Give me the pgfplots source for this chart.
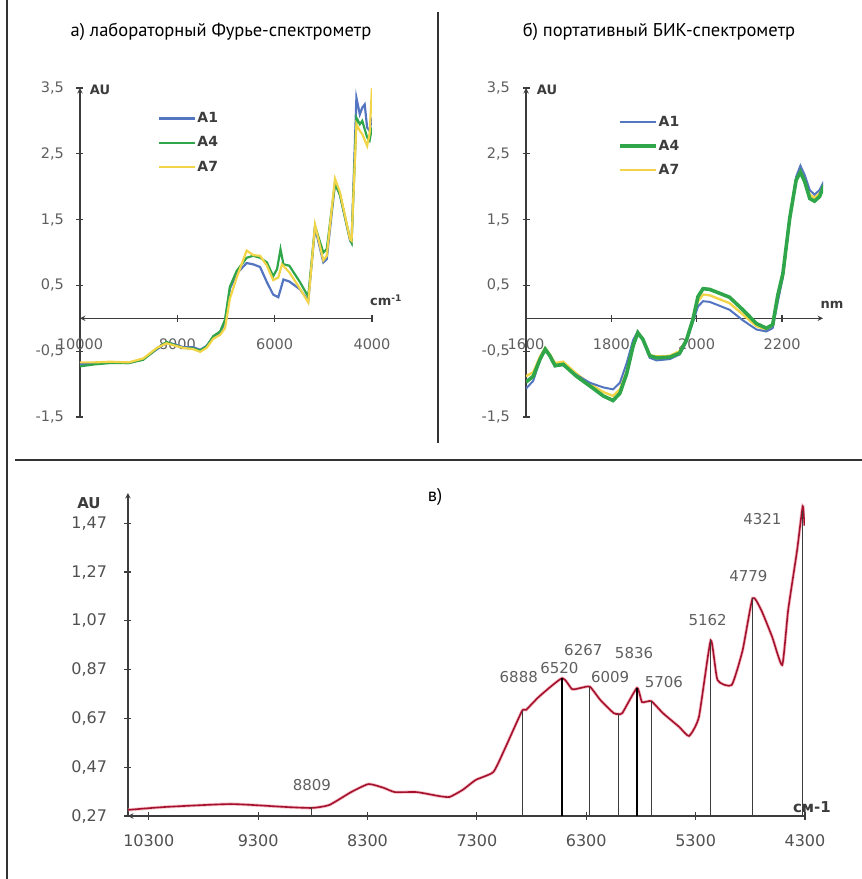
\documentclass[border=0pt]{standalone}
\usepackage{pgfplots}
\pgfplotsset{compat=1.18}
\usepackage{pgfplotstable}
\usepackage{fontspec}
\setmainfont{DejaVu Sans}
\newfontfamily\titlefont{PT Sans}

\definecolor{cA1}{RGB}{84,118,192}
\definecolor{cA4}{RGB}{48,166,74}
\definecolor{cA7}{RGB}{242,212,72}
\definecolor{cRed}{RGB}{165,18,45}
\definecolor{cPink}{RGB}{240,150,165}
\definecolor{axgray}{RGB}{60,60,60}
\definecolor{lblgray}{RGB}{95,95,95}

% a) laboratory FT spectrometer, cm^-1
\pgfplotstableread{
wn v
10000 -0.70
9700 -0.68
9380 -0.67
9000 -0.68
8700 -0.62
8420 -0.47
8220 -0.37
8080 -0.39
7880 -0.44
7670 -0.44
7530 -0.48
7400 -0.42
7260 -0.28
7120 -0.22
7020 -0.05
6920 0.45
6780 0.68
6575 0.84
6440 0.82
6300 0.78
6160 0.55
6030 0.36
5925 0.32
5820 0.59
5700 0.56
5480 0.44
5310 0.27
5170 1.38
5000 0.85
4930 0.90
4760 2.05
4660 1.88
4450 1.18
4420 1.15
4320 3.35
4250 3.10
4200 3.20
4150 3.25
4100 2.90
4050 2.85
4000 3.05
}\tabAa
\pgfplotstableread{
wn v
10000 -0.73
9700 -0.70
9380 -0.68
9000 -0.68
8700 -0.63
8420 -0.46
8220 -0.36
8080 -0.40
7880 -0.45
7670 -0.46
7530 -0.49
7400 -0.43
7260 -0.27
7120 -0.20
7020 -0.02
6920 0.48
6780 0.72
6575 0.92
6440 0.95
6300 0.92
6160 0.85
6030 0.64
5950 0.75
5880 1.05
5820 0.82
5700 0.80
5480 0.55
5310 0.33
5170 1.40
5000 1.00
4930 1.05
4760 2.05
4660 1.88
4450 1.20
4420 1.15
4320 3.05
4250 2.95
4200 3.00
4100 2.75
4050 2.70
4000 2.90
}\tabAb
\pgfplotstableread{
wn v
10000 -0.67
9700 -0.67
9380 -0.66
9000 -0.67
8700 -0.61
8420 -0.45
8220 -0.38
8080 -0.41
7880 -0.45
7670 -0.47
7530 -0.51
7400 -0.45
7260 -0.31
7120 -0.25
7020 -0.15
6920 0.30
6780 0.62
6575 1.03
6440 0.96
6300 0.95
6160 0.80
6030 0.58
5925 0.62
5850 0.82
5700 0.70
5480 0.45
5310 0.24
5170 1.42
5000 0.88
4930 0.95
4760 2.12
4660 1.92
4450 1.20
4420 1.18
4320 2.95
4250 2.85
4200 2.80
4100 2.62
4050 2.80
4000 3.50
}\tabAc

% b) portable NIR spectrometer, nm
\pgfplotstableread{
nm v
1600 -1.07
1617 -0.95
1633 -0.63
1645 -0.48
1656 -0.58
1668 -0.73
1687 -0.71
1718 -0.86
1750 -0.98
1781 -1.05
1804 -1.08
1820 -0.98
1836 -0.68
1851 -0.33
1862 -0.20
1874 -0.34
1890 -0.60
1906 -0.64
1937 -0.62
1960 -0.55
1976 -0.36
1991 -0.06
2003 0.18
2015 0.26
2030 0.25
2046 0.21
2077 0.13
2108 -0.03
2140 -0.17
2163 -0.20
2178 -0.15
2190 0.25
2202 0.62
2218 1.52
2233 2.15
2243 2.32
2253 2.18
2265 1.95
2276 1.88
2288 1.95
2298 2.08
}\tabBa
\pgfplotstableread{
nm v
1600 -0.97
1617 -0.88
1633 -0.62
1645 -0.47
1656 -0.57
1668 -0.72
1687 -0.70
1718 -0.88
1750 -1.03
1781 -1.18
1804 -1.25
1820 -1.14
1836 -0.84
1851 -0.42
1862 -0.22
1874 -0.32
1890 -0.57
1906 -0.60
1937 -0.59
1960 -0.53
1976 -0.33
1991 -0.02
2003 0.33
2015 0.45
2030 0.44
2046 0.40
2077 0.32
2108 0.13
2140 -0.08
2163 -0.15
2178 -0.10
2190 0.35
2202 0.68
2218 1.52
2233 2.10
2243 2.22
2253 2.08
2265 1.82
2276 1.78
2288 1.85
2298 2.02
}\tabBb
\pgfplotstableread{
nm v
1600 -0.88
1617 -0.82
1633 -0.58
1645 -0.45
1656 -0.55
1668 -0.68
1687 -0.66
1718 -0.84
1750 -1.00
1781 -1.12
1804 -1.18
1820 -1.08
1836 -0.80
1851 -0.40
1862 -0.21
1874 -0.32
1890 -0.56
1906 -0.58
1937 -0.57
1960 -0.50
1976 -0.33
1991 -0.04
2003 0.26
2015 0.36
2030 0.35
2046 0.31
2077 0.23
2108 0.06
2140 -0.12
2163 -0.17
2178 -0.12
2190 0.30
2202 0.65
2218 1.52
2233 2.12
2243 2.26
2253 2.12
2265 1.88
2276 1.83
2288 1.90
2298 2.05
}\tabBc

% c) averaged spectrum with peak positions
\pgfplotstableread{
wn v
10490 0.295
10150 0.307
9550 0.319
9050 0.307
8809 0.303
8650 0.315
8450 0.368
8290 0.401
8150 0.385
8050 0.368
7850 0.368
7650 0.352
7550 0.348
7430 0.377
7310 0.418
7150 0.450
7050 0.540
6888 0.700
6850 0.705
6730 0.760
6520 0.835
6430 0.790
6350 0.795
6267 0.800
6170 0.745
6050 0.692
6009 0.688
5970 0.692
5836 0.795
5790 0.737
5706 0.741
5600 0.692
5450 0.635
5360 0.598
5270 0.676
5162 0.990
5100 0.827
4970 0.807
4870 0.950
4779 1.163
4700 1.114
4600 1.004
4508 0.889
4454 1.114
4372 1.360
4321 1.540
4305 1.460
}\tabC

\pgfplotsset{
  spec/.style={
    scale only axis,
    axis line style={-, line width=1.4pt, axgray},
    tick style={line width=1.2pt, axgray},
    major tick length=7pt,
    tick align=outside,
    scaled x ticks=false, scaled y ticks=false,
    hide obscured x ticks=false,
    hide obscured y ticks=false,
    /pgf/number format/use comma,
    /pgf/number format/1000 sep={},
    /pgf/number format/assume math mode=true,
    tick label style={font=\fontsize{14.5}{16}\selectfont, text=lblgray},
    legend cell align=left,
    legend image code/.code={\draw[##1] (0pt,0pt) -- (36pt,0pt);},
  },
  top/.style={
    spec,
    width=292pt, height=329pt,
    ymin=-1.5, ymax=3.5,
    axis x line=middle, axis y line=left,
    ytick={-1.5,-0.5,0.5,1.5,2.5,3.5},
    xticklabel style={yshift=-13pt},
    yticklabel style={xshift=-9pt},
    legend style={draw=none, fill=none, anchor=north west,
      font=\fontsize{14}{16}\selectfont\bfseries, text=axgray,
      row sep=10.5pt, inner sep=1pt, nodes={inner sep=1pt}},
  },
}

\begin{document}
\begin{tikzpicture}
\path[use as bounding box] (0pt,0pt) rectangle (862pt,879pt);

% a)
\begin{axis}[top, at={(80pt,462pt)}, anchor=south west,
  xmin=4000, xmax=10000, x dir=reverse,
  xtick={4000,6000,8000,10000},
  legend style={at={(0.264,0.932)}}]
  \addplot[cA1, line width=2.2pt] table[x=wn, y=v] {\tabAa};
  \addplot[cA4, line width=2.2pt] table[x=wn, y=v] {\tabAb};
  \addplot[cA7, line width=2.2pt] table[x=wn, y=v] {\tabAc};
  \legend{A1, A4, A7}
\end{axis}

% b)
\begin{axis}[top, at={(526pt,462pt)}, anchor=south west,
  width=297pt, xmin=1600, xmax=2296,
  xtick={1600,1800,2000,2200},
  legend style={at={(0.306,0.922)}}]
  \addlegendimage{cA1, line width=2pt}
  \addlegendimage{cA4, line width=3.6pt}
  \addlegendimage{cA7, line width=2.4pt}
  \addplot[cA7, line width=2.4pt, forget plot] table[x=nm, y=v] {\tabBc};
  \addplot[cA1, line width=2pt, forget plot] table[x=nm, y=v] {\tabBa};
  \addplot[cA4, line width=3.6pt, forget plot] table[x=nm, y=v] {\tabBb};
  \legend{A1, A4, A7}
\end{axis}

% c)
\begin{axis}[spec, at={(128pt,63pt)}, anchor=south west,
  width=677pt, height=323pt,
  xmin=4300, xmax=10490, x dir=reverse,
  ymin=0.27, ymax=1.594,
  axis x line=bottom, axis y line=left,
  xtick={4300,5300,6300,7300,8300,9300,10300},
  ytick={0.27,0.47,0.67,0.87,1.07,1.27,1.47},
  tick label style={font=\fontsize{16}{18}\selectfont, text=axgray!90},
  yticklabel style={xshift=-14pt, /pgf/number format/fixed,
    /pgf/number format/fixed zerofill, /pgf/number format/precision=2},
  xticklabel style={yshift=-12pt}]
  \addplot[cPink, line width=3.2pt, opacity=0.6, smooth, tension=0.3] table[x=wn, y=v] {\tabC};
  \addplot[cRed, line width=1.6pt, smooth, tension=0.3] table[x=wn, y=v] {\tabC};
  % peak markers from the axis up to the curve
  \addplot[axgray, line width=0.7pt] coordinates {(8809,0.27) (8809,0.307)};
  \addplot[axgray, line width=0.7pt] coordinates {(6888,0.27) (6888,0.700)};
  \addplot[black, line width=1.6pt] coordinates {(6520,0.27) (6520,0.835)};
  \addplot[axgray, line width=1.2pt] coordinates {(6267,0.27) (6267,0.800)};
  \addplot[axgray, line width=0.7pt] coordinates {(6009,0.27) (6009,0.688)};
  \addplot[black, line width=1.6pt] coordinates {(5836,0.27) (5836,0.795)};
  \addplot[axgray, line width=1.2pt] coordinates {(5706,0.27) (5706,0.741)};
  \addplot[axgray, line width=1.2pt] coordinates {(5162,0.27) (5162,0.990)};
  \addplot[axgray, line width=1.2pt] coordinates {(4779,0.27) (4779,1.163)};
  \addplot[axgray, line width=1.2pt] coordinates {(4321,0.27) (4321,1.520)};
  \begin{scope}[every node/.style={font=\fontsize{15}{17}\selectfont, text=lblgray}]
  \node at (axis cs:8809,0.397) {8809};
  \node at (axis cs:6917,0.840) {6888};
  \node at (axis cs:6545,0.877) {6520};
  \node at (axis cs:6327,0.950) {6267};
  \node at (axis cs:6081,0.840) {6009};
  \node at (axis cs:5863,0.938) {5836};
  \node at (axis cs:5590,0.820) {5706};
  \node at (axis cs:5190,1.073) {5162};
  \node at (axis cs:4818,1.253) {4779};
  \node at (axis cs:4690,1.487) {4321};
  \end{scope}
\end{axis}

% titles and axis captions
\node[font=\titlefont\fontsize{18.5}{20}\selectfont] at (221pt,847pt) {а) лабораторный Фурье-спектрометр};
\node[font=\titlefont\fontsize{18.5}{20}\selectfont] at (659pt,847pt) {б) портативный БИК-спектрометр};
\node[font=\titlefont\fontsize{18.5}{20}\selectfont] at (435pt,382pt) {в)};
\node[font=\bfseries\fontsize{13}{15}\selectfont, text=axgray] at (100pt,789pt) {AU};
\node[font=\bfseries\fontsize{13}{15}\selectfont, text=axgray] at (547pt,789pt) {AU};
\node[font=\bfseries\fontsize{15}{17}\selectfont, text=axgray] at (89pt,376pt) {AU};
\node[font=\bfseries\fontsize{13}{15}\selectfont, text=axgray] at (386pt,579pt) {cm\textsuperscript{-1}};
\node[font=\bfseries\fontsize{13}{15}\selectfont, text=axgray] at (832pt,574pt) {nm};
\node[font=\bfseries\fontsize{15}{17}\selectfont, text=axgray] at (812pt,72pt) {см-1};

% frame lines
\draw[line width=1.5pt, black!80] (7pt,0pt) -- (7pt,879pt);
\draw[line width=1.5pt, black!80] (15pt,419pt) -- (862pt,419pt);
\draw[line width=1.2pt, black!80] (438pt,867pt) -- (438pt,436pt);
\end{tikzpicture}
\end{document}
